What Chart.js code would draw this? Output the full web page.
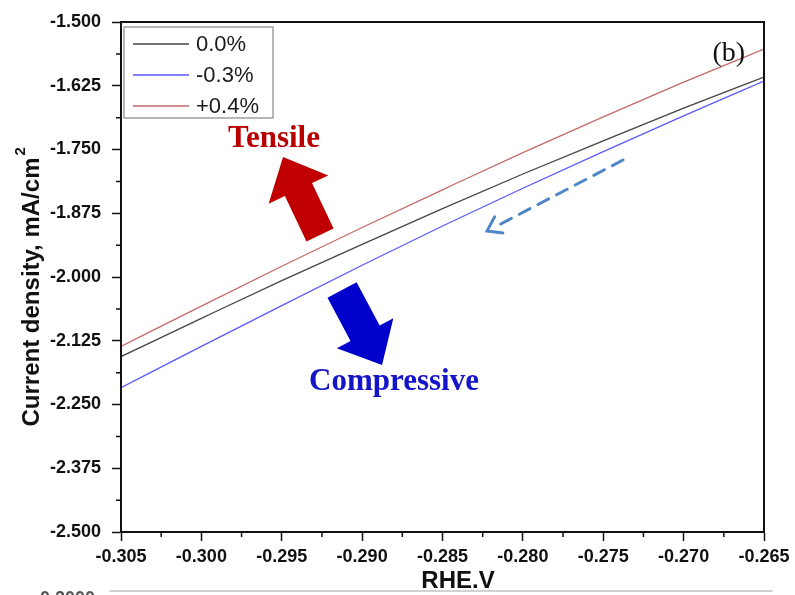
<!DOCTYPE html>
<html>
<head>
<meta charset="utf-8">
<script src="https://cdn.jsdelivr.net/npm/chart.js@4.4.1/dist/chart.umd.min.js"></script>
<style>
  html, body { margin: 0; padding: 0; background: #fff; }
  #wrap { width: 795px; height: 595px; }
</style>
</head>
<body>
<div id="wrap"><canvas id="lsv" width="795" height="595"></canvas></div>
<script>
// Potential (V vs RHE) and current density for each strain level
const voltage = [-0.305, -0.300, -0.295, -0.290, -0.285, -0.280, -0.275, -0.270, -0.265];
const strain0 = [-2.156, -2.081, -2.007, -1.936, -1.866, -1.798, -1.733, -1.669, -1.608];
const strainNeg03 = [-2.217, -2.136, -2.056, -1.977, -1.900, -1.826, -1.754, -1.684, -1.616];
const strainPos04 = [-2.136, -2.057, -1.979, -1.903, -1.829, -1.756, -1.686, -1.618, -1.553];

const seriesLabels = ['0.0%', '-0.3%', '+0.4%'];
const seriesColors = ['#454545', '#5a5aff', '#c46a6a'];

const xTickValues = [-0.305, -0.300, -0.295, -0.290, -0.285, -0.280, -0.275, -0.270, -0.265];
const yTickValues = [-2.500, -2.375, -2.250, -2.125, -2.000, -1.875, -1.750, -1.625, -1.500];

const SANS = '"Liberation Sans", Arial, sans-serif';
const SERIF = '"Liberation Serif", "Times New Roman", serif';

function toPoints(ys) {
  return voltage.map((v, i) => ({ x: v, y: ys[i] }));
}

function fatArrow(ctx, x0, y0, x1, y1, shaftW, headW, headL, color) {
  const len = Math.hypot(x1 - x0, y1 - y0);
  const ux = (x1 - x0) / len, uy = (y1 - y0) / len;
  const nx = -uy, ny = ux;
  const bx = x1 - ux * headL, by = y1 - uy * headL;
  ctx.beginPath();
  ctx.moveTo(x0 + nx * shaftW / 2, y0 + ny * shaftW / 2);
  ctx.lineTo(bx + nx * shaftW / 2, by + ny * shaftW / 2);
  ctx.lineTo(bx + nx * headW / 2, by + ny * headW / 2);
  ctx.lineTo(x1, y1);
  ctx.lineTo(bx - nx * headW / 2, by - ny * headW / 2);
  ctx.lineTo(bx - nx * shaftW / 2, by - ny * shaftW / 2);
  ctx.lineTo(x0 - nx * shaftW / 2, y0 - ny * shaftW / 2);
  ctx.closePath();
  ctx.fillStyle = color;
  ctx.fill();
}

const extras = {
  id: 'extras',
  afterDraw(chart) {
    const { ctx, chartArea: a, scales: { x, y } } = chart;
    ctx.save();

    // frame round the plot
    ctx.strokeStyle = '#111';
    ctx.lineWidth = 2;
    ctx.strokeRect(a.left, a.top, a.right - a.left, a.bottom - a.top);

    // minor ticks halfway between the labelled ones
    ctx.lineWidth = 1.5;
    ctx.beginPath();
    for (let i = 0; i < yTickValues.length - 1; i++) {
      const py = y.getPixelForValue((yTickValues[i] + yTickValues[i + 1]) / 2);
      ctx.moveTo(a.left - 5, py); ctx.lineTo(a.left, py);
    }
    for (let i = 0; i < xTickValues.length - 1; i++) {
      const px = x.getPixelForValue((xTickValues[i] + xTickValues[i + 1]) / 2);
      ctx.moveTo(px, a.bottom); ctx.lineTo(px, a.bottom + 5);
    }
    ctx.stroke();

    // legend box
    const lx = a.left + 3, ly = a.top + 5;
    ctx.fillStyle = '#fff';
    ctx.fillRect(lx, ly, 149, 91);
    ctx.strokeStyle = '#888';
    ctx.lineWidth = 1.2;
    ctx.strokeRect(lx, ly, 149, 91);
    ctx.font = '22px ' + SANS;
    ctx.textBaseline = 'middle';
    ctx.textAlign = 'left';
    seriesLabels.forEach((label, i) => {
      const ry = ly + 17 + i * 31;
      ctx.strokeStyle = seriesColors[i];
      ctx.lineWidth = 1.4;
      ctx.beginPath();
      ctx.moveTo(lx + 9, ry); ctx.lineTo(lx + 65, ry);
      ctx.stroke();
      ctx.fillStyle = '#1a1a1a';
      ctx.fillText(label, lx + 72, ry + 1);
    });

    // strain direction arrows
    fatArrow(ctx, x.getPixelForValue(-0.29262), y.getPixelForValue(-1.9176),
      x.getPixelForValue(-0.29492), y.getPixelForValue(-1.7647), 30, 66, 36, '#c00000');
    fatArrow(ctx, x.getPixelForValue(-0.29125), y.getPixelForValue(-2.0255),
      x.getPixelForValue(-0.28876), y.getPixelForValue(-2.1725), 33, 64, 36, '#0000cc');

    // dashed scan-direction arrow
    const sx = x.getPixelForValue(-0.27377), sy = y.getPixelForValue(-1.7706);
    const ex = x.getPixelForValue(-0.28223), ey = y.getPixelForValue(-1.9098);
    ctx.strokeStyle = '#4f86c6';
    ctx.lineWidth = 3;
    ctx.lineCap = 'round';
    ctx.setLineDash([12, 9]);
    ctx.beginPath();
    ctx.moveTo(sx, sy); ctx.lineTo(ex + 6, ey - 3);
    ctx.stroke();
    ctx.setLineDash([]);
    const ang = Math.atan2(sy - ey, sx - ex);
    ctx.beginPath();
    ctx.moveTo(ex + 16 * Math.cos(ang - 0.6), ey + 16 * Math.sin(ang - 0.6));
    ctx.lineTo(ex, ey);
    ctx.lineTo(ex + 16 * Math.cos(ang + 0.6), ey + 16 * Math.sin(ang + 0.6));
    ctx.stroke();

    // labels inside the plot
    ctx.textBaseline = 'alphabetic';
    ctx.font = 'bold 31px ' + SERIF;
    ctx.fillStyle = '#b80000';
    ctx.fillText('Tensile', x.getPixelForValue(-0.29834), y.getPixelForValue(-1.7451));
    ctx.fillStyle = '#1414c8';
    ctx.fillText('Compressive', x.getPixelForValue(-0.29330), y.getPixelForValue(-2.2216));
    ctx.font = '28px ' + SERIF;
    ctx.fillStyle = '#111';
    ctx.textAlign = 'right';
    ctx.fillText('(b)', x.getPixelForValue(-0.26618), y.getPixelForValue(-1.5765));

    // axis titles
    ctx.fillStyle = '#111';
    ctx.textAlign = 'center';
    ctx.font = 'bold 24px ' + SANS;
    ctx.fillText('RHE.V', 458, 588);

    ctx.save();
    ctx.translate(39, 287);
    ctx.rotate(-Math.PI / 2);
    const main = 'Current density, mA/cm';
    ctx.font = 'bold 24px ' + SANS;
    const w = ctx.measureText(main).width;
    ctx.textAlign = 'left';
    ctx.fillText(main, -w / 2 - 5, 0);
    ctx.font = 'bold 15px ' + SANS;
    ctx.fillText('2', w / 2 - 3, -14);
    ctx.restore();

    // edge of the panel underneath
    ctx.strokeStyle = '#c4c4c4';
    ctx.lineWidth = 1.5;
    ctx.beginPath();
    ctx.moveTo(110, 591); ctx.lineTo(772, 591);
    ctx.stroke();
    ctx.font = 'bold 18px ' + SANS;
    ctx.fillStyle = '#555';
    ctx.textAlign = 'left';
    ctx.fillText('-0.2000', 34, 604);

    ctx.restore();
  }
};

new Chart(document.getElementById('lsv'), {
  type: 'line',
  data: {
    datasets: [strain0, strainNeg03, strainPos04].map((ys, i) => ({
      label: seriesLabels[i],
      data: toPoints(ys),
      borderColor: seriesColors[i],
      borderWidth: 1.3,
      pointRadius: 0,
      cubicInterpolationMode: 'monotone',
      fill: false
    }))
  },
  options: {
    responsive: false,
    animation: false,
    layout: { padding: { top: 22, right: 31, left: 0, bottom: 0 } },
    plugins: { legend: { display: false }, tooltip: { enabled: false } },
    scales: {
      x: {
        type: 'linear',
        min: -0.305,
        max: -0.265,
        afterBuildTicks: s => { s.ticks = xTickValues.map(v => ({ value: v })); },
        afterFit: s => { s.height = 63; },
        ticks: {
          callback: v => v.toFixed(3),
          font: { family: SANS, size: 18, weight: 'bold' },
          color: '#111',
          padding: 5,
          maxRotation: 0,
          autoSkip: false
        },
        grid: { drawOnChartArea: false, tickLength: 9, tickWidth: 1.5, tickColor: '#111' },
        border: { color: '#111', width: 2 }
      },
      y: {
        type: 'linear',
        min: -2.5,
        max: -1.5,
        afterBuildTicks: s => { s.ticks = yTickValues.map(v => ({ value: v })); },
        afterFit: s => { s.width = 121; },
        ticks: {
          callback: v => v.toFixed(3),
          font: { family: SANS, size: 18, weight: 'bold' },
          color: '#111',
          padding: 11,
          autoSkip: false
        },
        grid: { drawOnChartArea: false, tickLength: 9, tickWidth: 1.5, tickColor: '#111' },
        border: { color: '#111', width: 2 }
      }
    }
  },
  plugins: [extras]
});
</script>
</body>
</html>
